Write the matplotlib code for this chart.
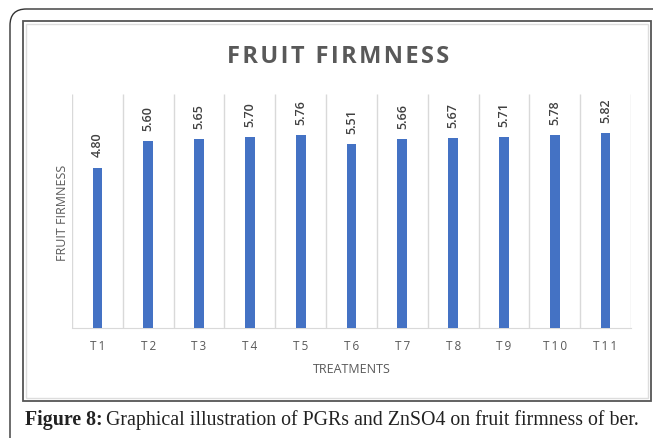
import matplotlib.pyplot as plt
from matplotlib.patches import FancyBboxPatch, Rectangle

# data
treatments = ['T1', 'T2', 'T3', 'T4', 'T5', 'T6', 'T7', 'T8', 'T9', 'T10', 'T11']
firmness = [4.80, 5.60, 5.65, 5.70, 5.76, 5.51, 5.66, 5.67, 5.71, 5.78, 5.82]

W, H = 653, 439
fig = plt.figure(figsize=(W / 100, H / 100), dpi=100)
fig.patch.set_facecolor('white')

def fx(px):
    return px / W

def fy(py):
    return 1 - py / H

# outer rounded frame (runs off the right and bottom)
frame = FancyBboxPatch((fx(10), fy(460)), fx(700), (460 - 10) / H,
                       boxstyle='round,pad=0,rounding_size=0.025',
                       transform=fig.transFigure, fill=False,
                       edgecolor='#333333', linewidth=1.0, mutation_aspect=W / H)
fig.patches.append(frame)

# chart box
fig.patches.append(Rectangle((fx(23), fy(402)), fx(651 - 23), (402 - 22) / H,
                             transform=fig.transFigure, fill=False,
                             edgecolor='#555555', linewidth=1.3))
fig.patches.append(Rectangle((fx(26), fy(399)), fx(648 - 26), (399 - 25) / H,
                             transform=fig.transFigure, fill=False,
                             edgecolor='#dddddd', linewidth=1.0))

ax = fig.add_axes([fx(72), fy(329), fx(631 - 72), (329 - 95) / H])
x = list(range(len(treatments)))
ax.bar(x, firmness, width=0.19, color='#4472C4', zorder=3)
ax.set_xlim(-0.5, len(treatments) - 0.5)
ax.set_ylim(0, 7)
ax.vlines([i - 0.5 for i in range(len(treatments) + 1)], 0, 7,
          color='#d9d9d9', linewidth=1.0, zorder=1)
for s in ['top', 'right', 'left']:
    ax.spines[s].set_visible(False)
ax.spines['bottom'].set_color('#d9d9d9')
ax.set_yticks([])
ax.set_xticks(x)
ax.set_xticklabels(['\u2009'.join(t) for t in treatments], fontsize=8.5,
                   color='#595959', family='Open Sans')
ax.tick_params(axis='x', length=0, pad=8)

for xi, v in zip(x, firmness):
    ax.annotate(f'{v:.2f}', (xi, v), xytext=(0, 8), textcoords='offset points',
                rotation=90, ha='center', va='bottom', fontsize=9,
                color='#404040', family='Open Sans', fontweight='semibold')

ax.set_xlabel('TREATMENTS', fontsize=9, color='#595959', family='Open Sans',
              labelpad=7)
fig.text(fx(62), fy(213), 'FRUIT FIRMNESS', rotation=90, ha='center', va='center',
         fontsize=9, color='#595959', family='Open Sans')

fig.text(fx(338), fy(57), '\u200a'.join('FRUIT FIRMNESS'), ha='center', va='center',
         fontsize=17, fontweight='bold', color='#595959',
         family=['Open Sans', 'DejaVu Sans'])

# caption
fig.canvas.draw()
r = fig.canvas.get_renderer()
cap1 = fig.text(fx(25), fy(420), 'Figure 8:', ha='left', va='center', fontsize=14.3,
                fontweight='bold', family='Liberation Serif', color='#222222')
bb = cap1.get_window_extent(renderer=r)
fig.text((bb.x1 + 3) / W, fy(420),
         'Graphical illustration of PGRs and ZnSO4 on fruit firmness of ber.',
         ha='left', va='center', fontsize=14.3, family='Liberation Serif', color='#222222')

fig.savefig('out.png', dpi=100)
